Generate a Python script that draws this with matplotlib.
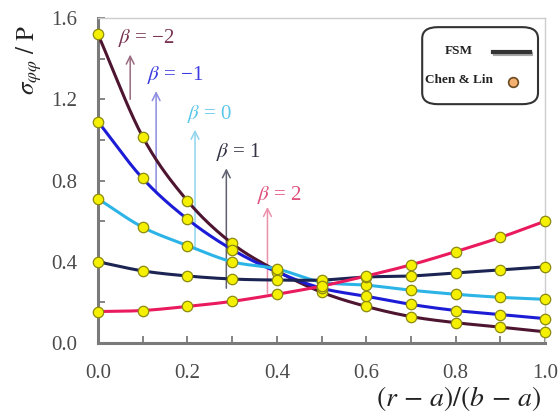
import matplotlib
matplotlib.use("Agg")
import matplotlib.pyplot as plt
import matplotlib.patheffects as pe
from matplotlib.patches import FancyBboxPatch
from matplotlib.ticker import MultipleLocator
import numpy as np

# --- data ---
x = [0.0, 0.1, 0.2, 0.3, 0.4, 0.5, 0.6, 0.7, 0.8, 0.9, 1.0]
beta_m2 = [1.52, 1.015, 0.70, 0.49, 0.355, 0.25, 0.18, 0.13, 0.10, 0.078, 0.055]
beta_m1 = [1.09, 0.81, 0.61, 0.46, 0.35, 0.27, 0.23, 0.19, 0.16, 0.14, 0.12]
beta_0 = [0.71, 0.57, 0.48, 0.40, 0.365, 0.30, 0.285, 0.26, 0.24, 0.225, 0.215]
beta_1 = [0.40, 0.355, 0.33, 0.315, 0.31, 0.31, 0.325, 0.33, 0.345, 0.36, 0.375]
beta_2 = [0.155, 0.16, 0.18, 0.205, 0.24, 0.28, 0.33, 0.385, 0.45, 0.52, 0.60]

series = [beta_m2, beta_m1, beta_0, beta_1, beta_2]
labels = [r"$\beta$ = −2", r"$\beta$ = −1", r"$\beta$ = 0", r"$\beta$ = 1", r"$\beta$ = 2"]
line_colors = ["#4e1530", "#1c1cd6", "#2cb4e6", "#1b2452", "#ea1a5e"]
text_colors = ["#7a3452", "#3c3ce0", "#5cc6ea", "#333344", "#e0507c"]
arrow_colors = ["#9a6a80", "#8c8ce0", "#90d4ee", "#606070", "#ec90ac"]
# arrow x position, tail y, head y (data units)
arrow_x = [0.072, 0.13, 0.217, 0.287, 0.379]
arrow_tail = [1.20, 0.74, 0.47, 0.27, 0.245]
arrow_head = [1.42, 1.24, 1.05, 0.86, 0.67]
label_pos = [(0.045, 1.50), (0.11, 1.32), (0.20, 1.13), (0.265, 0.94), (0.355, 0.73)]


def smooth(xs, ys, n=20):
    # Catmull-Rom curve through the data points, for drawing only
    xs = np.asarray(xs, float)
    ys = np.asarray(ys, float)
    px = np.concatenate([[2 * xs[0] - xs[1]], xs, [2 * xs[-1] - xs[-2]]])
    py = np.concatenate([[2 * ys[0] - ys[1]], ys, [2 * ys[-1] - ys[-2]]])
    ox, oy = [], []
    t = np.linspace(0, 1, n, endpoint=False)
    for i in range(1, len(px) - 2):
        for p, o in ((px, ox), (py, oy)):
            p0, p1, p2, p3 = p[i - 1], p[i], p[i + 1], p[i + 2]
            o.extend(0.5 * ((2 * p1) + (-p0 + p2) * t
                            + (2 * p0 - 5 * p1 + 4 * p2 - p3) * t ** 2
                            + (-p0 + 3 * p1 - 3 * p2 + p3) * t ** 3))
    ox.append(xs[-1])
    oy.append(ys[-1])
    return np.array(ox), np.array(oy)


plt.rcParams["mathtext.fontset"] = "stix"
plt.rcParams["font.family"] = "Liberation Serif"

fig = plt.figure(figsize=(5.58, 4.15), dpi=100)
ax = fig.add_axes([0.1756, 0.1735, 0.8014, 0.783])

for ys, c in zip(series, line_colors):
    sx, sy = smooth(x, ys)
    ax.plot(sx, sy, color=c, lw=2.2, zorder=3)
for ys in series:
    ax.plot(x, ys, ls="none", marker="o", ms=7.5, mfc="#f4f000",
            mec="#8c8a10", mew=0.9, zorder=4, clip_on=False)

for xa, t0, t1, ac in zip(arrow_x, arrow_tail, arrow_head, arrow_colors):
    ax.annotate("", xy=(xa, t1), xytext=(xa, t0),
                arrowprops=dict(arrowstyle="->", color=ac, lw=1.1,
                                mutation_scale=14, shrinkA=0, shrinkB=0),
                zorder=2)
for (lx, ly), lab, tc in zip(label_pos, labels, text_colors):
    ax.text(lx, ly, lab, color=tc, fontsize=15, ha="left", va="center")

ax.set_xlim(0, 1.0)
ax.set_ylim(0, 1.6)
ax.xaxis.set_major_locator(MultipleLocator(0.2))
ax.xaxis.set_minor_locator(MultipleLocator(0.1))
ax.yaxis.set_major_locator(MultipleLocator(0.4))
ax.yaxis.set_minor_locator(MultipleLocator(0.2))
ax.xaxis.set_major_formatter(plt.FormatStrFormatter("%.1f"))
ax.yaxis.set_major_formatter(plt.FormatStrFormatter("%.1f"))
ax.tick_params(which="both", direction="in", length=5, width=1.2,
               color="#707070", labelcolor="#4a4a4a", labelsize=15)
ax.tick_params(axis="x", pad=15)
ax.tick_params(axis="y", pad=15)
ax.tick_params(top=False, right=False, which="both")

for s in ("left", "bottom"):
    ax.spines[s].set_color("#7a7a7a")
    ax.spines[s].set_linewidth(2.2)
for s in ("top", "right"):
    ax.spines[s].set_color("#cccccc")
    ax.spines[s].set_linewidth(1.0)

ax.text(-0.155, 0.87, r"$\sigma_{\varphi\varphi}\ /\ \mathrm{P}$", transform=ax.transAxes,
        rotation=90, fontsize=18, ha="center", va="center", color="#222222")
ax.text(0.99, -0.17, r"$(r\,-\,a)/(b\,-\,a)$", transform=ax.transAxes,
        fontsize=20, ha="right", va="center", color="#222222")

# hand-built legend box (labels centred, handles on the right)
box = FancyBboxPatch((0.725, 0.735), 0.259, 0.237, transform=ax.transAxes,
                     boxstyle="round,pad=0,rounding_size=0.035",
                     fc="white", ec="#333333", lw=1.5, zorder=5)
ax.add_patch(box)
ax.text(0.806, 0.898, "FSM", transform=ax.transAxes, ha="center", va="center",
        fontsize=9.5, fontweight="bold", color="#222222", zorder=6)
ax.text(0.808, 0.809, "Chen & Lin", transform=ax.transAxes, ha="center", va="center",
        fontsize=9.5, fontweight="bold", color="#222222", zorder=6)
ax.plot([0.884, 0.966], [0.896, 0.896], transform=ax.transAxes, color="#333333",
        lw=3, zorder=6, clip_on=False,
        path_effects=[pe.SimpleLineShadow(offset=(1, -1.5), alpha=0.35), pe.Normal()])
ax.plot([0.928], [0.803], transform=ax.transAxes, ls="none", marker="o", ms=7,
        mfc="#f4b070", mec="#6a4a20", mew=1.2, zorder=6, clip_on=False)

fig.savefig("out.png", dpi=100)
